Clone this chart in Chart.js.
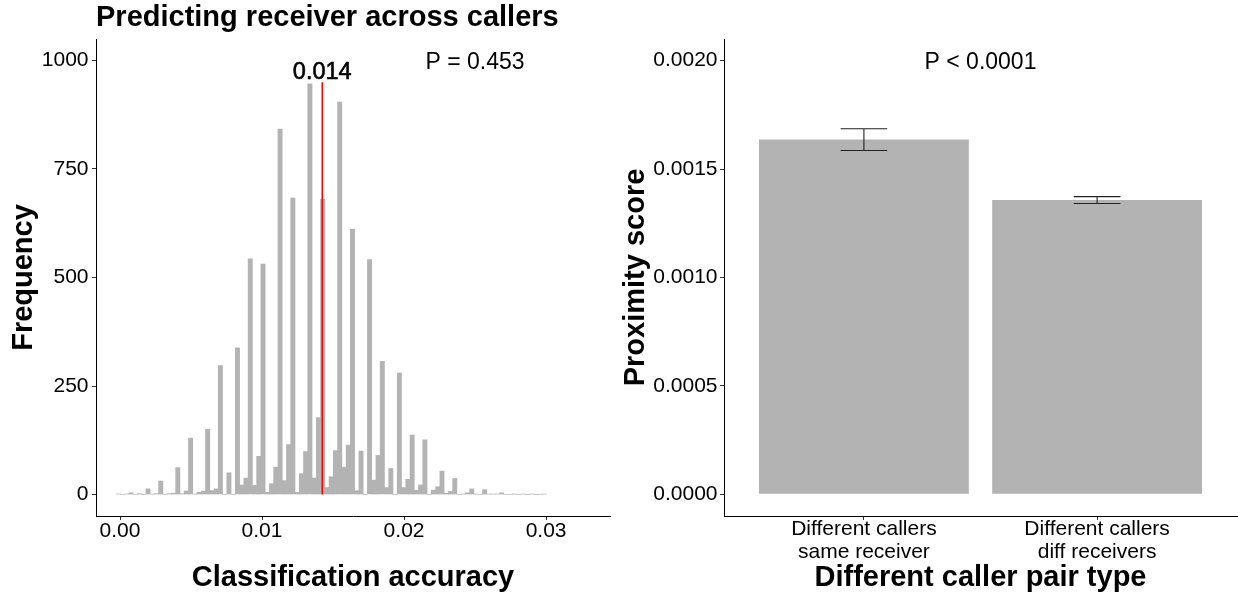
<!DOCTYPE html>
<html>
<head>
<meta charset="utf-8">
<script src="https://cdn.jsdelivr.net/npm/chart.js@4.4.1/dist/chart.umd.min.js"></script>
<style>
  html, body { margin: 0; padding: 0; background: #fff; }
  body { width: 1238px; height: 596px; position: relative; overflow: hidden; }
  canvas { position: absolute; top: 0; }
  #chart-hist { left: 0; }
  #chart-prox { left: 612px; }
</style>
</head>
<body>
<canvas id="chart-hist" width="612" height="596"></canvas>
<canvas id="chart-prox" width="626" height="596"></canvas>
<script>
// --- Left panel: permutation histogram ---
const BIN_START = -0.00028;
const BIN_WIDTH = 0.0003;
const HIST_COUNTS = [
  1, 0, 1, 4, 0, 2, 0, 13, 1, 2,
  31, 0, 2, 3, 62, 2, 8, 130, 1, 5,
  8, 150, 9, 13, 297, 0, 50, 0, 338, 22,
  38, 543, 21, 88, 531, 5, 25, 63, 842, 32,
  115, 683, 5, 48, 99, 946, 38, 177, 680, 16,
  41, 101, 904, 63, 114, 611, 9, 100, 0, 541,
  33, 90, 307, 16, 60, 0, 280, 16, 35, 137,
  10, 22, 126, 0, 10, 18, 54, 3, 7, 37,
  0, 1, 4, 13, 1, 0, 11, 1, 1, 1,
  4, 0, 0, 1, 0, 1, 0, 1, 0, 0,
  1
];
const OBSERVED = 0.01424;
const OBSERVED_TOP = 950;
const HIST_X_TICKS = [0, 0.01, 0.02, 0.03];
const HIST_Y_TICKS = [0, 250, 500, 750, 1000];

// --- Right panel: proximity by pair type ---
const PAIR_LABELS = [['Different callers', 'same receiver'], ['Different callers', 'diff receivers']];
const PAIR_MEANS = [0.001636, 0.001357];
const PAIR_SE = [0.000050, 0.000016];
const PROX_Y_TICKS = [0, 0.0005, 0.001, 0.0015, 0.002];

const FONT = "'Liberation Sans', Arial, sans-serif";
const GREY = '#B3B3B3';

// text annotations placed in data coordinates
const annotationText = {
  id: 'annotationText',
  afterDatasetsDraw(chart, args, opts) {
    const { ctx, scales: { x, y } } = chart;
    ctx.save();
    ctx.textAlign = 'center';
    ctx.textBaseline = 'middle';
    ctx.fillStyle = '#000';
    (opts.items || []).forEach(item => {
      ctx.font = item.font;
      const px = x.getPixelForValue(item.x);
      const py = y.getPixelForValue(item.y) + (item.dy || 0);
      ctx.fillText(item.text, px, py);
      if (item.heavy) {
        ctx.strokeStyle = '#000';
        ctx.lineWidth = 0.6;
        ctx.strokeText(item.text, px, py);
      }
    });
    ctx.restore();
  }
};

// error bars for the right panel
const errorBars = {
  id: 'errorBars',
  afterDatasetsDraw(chart) {
    const { ctx, scales: { x, y } } = chart;
    const half = x.getPixelForValue(1.1) - x.getPixelForValue(1);
    ctx.save();
    ctx.strokeStyle = '#222';
    ctx.lineWidth = 1.1;
    PAIR_MEANS.forEach((m, i) => {
      const cx = x.getPixelForValue(i + 1);
      const top = y.getPixelForValue(m + PAIR_SE[i]);
      const bot = y.getPixelForValue(m - PAIR_SE[i]);
      ctx.beginPath();
      ctx.moveTo(cx - half, top); ctx.lineTo(cx + half, top);
      ctx.moveTo(cx, top); ctx.lineTo(cx, bot);
      ctx.moveTo(cx - half, bot); ctx.lineTo(cx + half, bot);
      ctx.stroke();
    });
    ctx.restore();
  }
};

function axisStyle() {
  return {
    border: { display: true, color: '#000', width: 1 },
    grid: { drawOnChartArea: false, drawTicks: true, tickLength: 4, tickColor: '#333', offset: false },
  };
}

const tickFont = { family: FONT, size: 21, lineHeight: 1.1 };
const titleFont = { family: FONT, size: 29, weight: 'bold', lineHeight: 1.2 };

new Chart(document.getElementById('chart-hist'), {
  type: 'bar',
  data: {
    datasets: [
      {
        type: 'line',
        data: [{ x: OBSERVED, y: 0 }, { x: OBSERVED, y: OBSERVED_TOP }],
        borderColor: '#FF0000',
        borderWidth: 1.5,
        pointRadius: 0,
        order: 0,
      },
      {
        data: HIST_COUNTS.map((c, i) => ({ x: BIN_START + (i + 0.5) * BIN_WIDTH, y: c })),
        backgroundColor: GREY,
        borderWidth: 0,
        barPercentage: 1,
        categoryPercentage: 1,
        order: 1,
      },
    ],
  },
  options: {
    responsive: false,
    animation: false,
    events: [],
    layout: { padding: { top: 0, right: 2, bottom: 0, left: 0 } },
    plugins: {
      legend: { display: false },
      tooltip: { enabled: false },
      title: {
        display: true,
        text: 'Predicting receiver across callers',
        align: 'start',
        fullSize: false,
        color: '#000',
        font: titleFont,
        padding: { top: 1, bottom: 3.2 },
      },
      annotationText: {
        items: [
          { text: '0.014', x: OBSERVED, y: OBSERVED_TOP, dy: -10, font: `23.5px ${FONT}`, heavy: true },
          { text: 'P = 0.453', x: 0.025, y: 1000, dy: 2.5, font: `23px ${FONT}` },
        ],
      },
    },
    scales: {
      x: {
        type: 'linear',
        offset: false,
        min: -0.00169,
        max: 0.0345,
        ...axisStyle(),
        afterBuildTicks: axis => { axis.ticks = HIST_X_TICKS.map(v => ({ value: v })); },
        afterFit: axis => { axis.height = 80; },
        ticks: { color: '#000', font: tickFont, padding: -0.5, maxRotation: 0, callback: v => v.toFixed(2) },
        title: { display: true, text: 'Classification accuracy', color: '#000', font: titleFont, padding: { top: 0, bottom: 0.4 } },
      },
      y: {
        min: -49.5,
        max: 1049.5,
        ...axisStyle(),
        afterBuildTicks: axis => { axis.ticks = HIST_Y_TICKS.map(v => ({ value: v })); },
        afterFit: axis => { axis.width = 96; },
        ticks: { color: '#000', font: tickFont, padding: 3.5, callback: v => String(v) },
        title: { display: true, text: 'Frequency', color: '#000', font: titleFont, padding: { top: 7, bottom: 7 } },
      },
    },
  },
  plugins: [annotationText],
});

new Chart(document.getElementById('chart-prox'), {
  type: 'bar',
  data: {
    datasets: [{
      data: PAIR_MEANS.map((m, i) => ({ x: i + 1, y: m })),
      backgroundColor: GREY,
      borderWidth: 0,
      barPercentage: 0.9,
      categoryPercentage: 1,
    }],
  },
  options: {
    responsive: false,
    animation: false,
    events: [],
    layout: { padding: { top: 39, right: 1, bottom: 0, left: 0 } },
    plugins: {
      legend: { display: false },
      tooltip: { enabled: false },
      annotationText: {
        items: [
          { text: 'P < 0.0001', x: 1.5, y: 0.002, dy: 1.5, font: `23px ${FONT}` },
        ],
      },
    },
    scales: {
      x: {
        type: 'linear',
        offset: false,
        min: 0.4,
        max: 2.6,
        ...axisStyle(),
        afterBuildTicks: axis => { axis.ticks = PAIR_LABELS.map((_, i) => ({ value: i + 1 })); },
        afterFit: axis => { axis.height = 80; },
        ticks: { color: '#000', font: tickFont, padding: -2, maxRotation: 0, callback: v => PAIR_LABELS[v - 1] },
        title: { display: true, text: 'Different caller pair type', color: '#000', font: titleFont, padding: { top: 0, bottom: 0.4 } },
      },
      y: {
        min: -0.0001,
        max: 0.0021,
        ...axisStyle(),
        afterBuildTicks: axis => { axis.ticks = PROX_Y_TICKS.map(v => ({ value: v })); },
        afterFit: axis => { axis.width = 112; },
        ticks: { color: '#000', font: tickFont, padding: 2.5, callback: v => v.toFixed(4) },
        title: { display: true, text: 'Proximity score', color: '#000', font: titleFont, padding: { top: 7, bottom: 7 } },
      },
    },
  },
  plugins: [annotationText, errorBars],
});
</script>
</body>
</html>
